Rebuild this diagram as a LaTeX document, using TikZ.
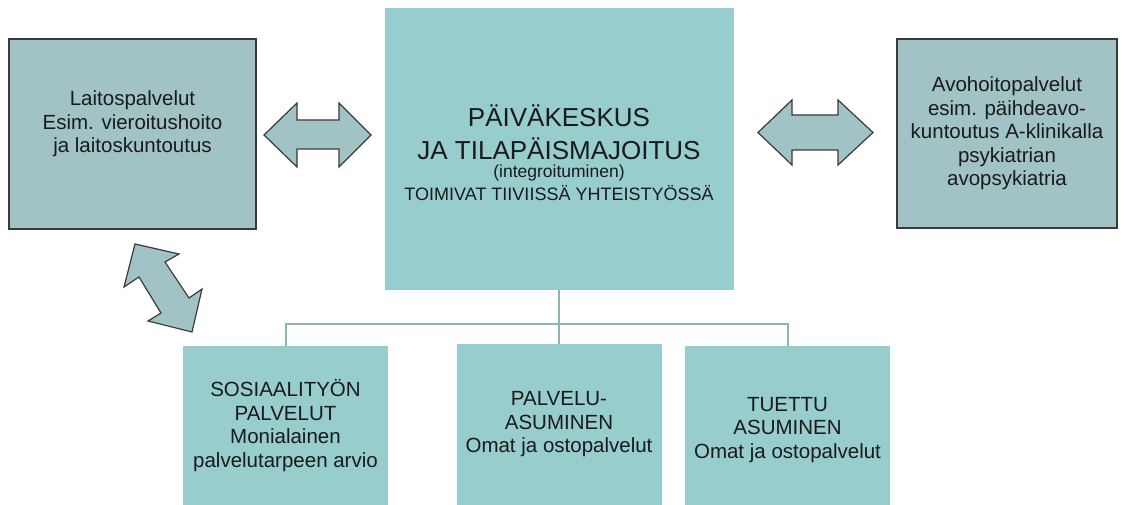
\documentclass[tikz,border=0pt]{standalone}
\usepackage{fontspec}
\setmainfont{Liberation Sans}
\definecolor{teal1}{HTML}{97CDCD}
\definecolor{side}{HTML}{A1C3C6}
\definecolor{edge}{HTML}{3A3A3A}
\definecolor{conn}{HTML}{8DB4B4}
\definecolor{txt}{HTML}{1A1A1A}
\begin{document}
\begin{tikzpicture}[x=1pt,y=-1pt,
  sidebox/.style={draw=edge,line width=1.8pt,fill=side,inner sep=0pt,align=center,text=txt,font=\fontsize{20.5}{23.5}\selectfont},
  mainbox/.style={fill=teal1,inner sep=0pt,align=center,text=txt,font=\fontsize{20.5}{23.5}\selectfont},
  boxtext/.style={inner sep=0pt,align=center,text=txt,font=\fontsize{20.5}{23.5}\selectfont},
  link/.style={draw=conn,line width=2pt},
  blockarrow/.style={draw=edge,line width=1.2pt,fill=side,line join=miter}]
\useasboundingbox (0,0) rectangle (1125,505);
\fill[white] (0,0) rectangle (1125,505);

% main box
\node[mainbox,minimum width=349pt,minimum height=282pt] (center) at (559,149) {};
\node[inner sep=0pt,align=center,text=txt,font=\fontsize{26}{33}\selectfont] (ctext) at (559,152.5)
  {PÄIVÄKESKUS\\JA TILAPÄISMAJOITUS\\[-15pt]{\fontsize{17.5}{21}\selectfont (integroituminen)}\\[-9.5pt]{\fontsize{18}{22}\selectfont TOIMIVAT TIIVIISSÄ YHTEISTYÖSSÄ}};

% side boxes
\node[sidebox,minimum width=247pt,minimum height=190pt] (lbox) at (132.5,134) {};
\node[boxtext] (ltext) at (132.5,124) {Laitospalvelut\\Esim. vieroitushoito\\ja laitoskuntoutus};
\node[sidebox,minimum width=220pt,minimum height=189pt] (rbox) at (1007,133.5)
  {Avohoitopalvelut\\esim. päihdeavo-\\kuntoutus A-klinikalla\\psykiatrian\\avopsykiatria};

% bottom boxes
\node[mainbox,minimum width=205pt,minimum height=159pt] (b1) at (285.5,425.5)
  {SOSIAALITYÖN\\PALVELUT\\Monialainen\\palvelutarpeen arvio};
\node[mainbox,minimum width=205pt,minimum height=161pt] (b2) at (559,424.5)
  {PALVELU-\\ASUMINEN\\Omat ja ostopalvelut};
\node[mainbox,minimum width=205pt,minimum height=159pt] (b3) at (787.5,425.5) {};
\node[boxtext] (b3text) at (787.5,430) {TUETTU\\ASUMINEN\\Omat ja ostopalvelut};

% connectors
\coordinate (bus) at (559,324);
\draw[link] (center.south) -- (b2.north);
\draw[link] (b1.north) |- (bus) -| (b3.north);

% block arrows
\draw[blockarrow] (264,135) -- (297,103) -- (297,120) -- (339,120) -- (339,103) -- (371,135)
  -- (339,167) -- (339,149) -- (297,149) -- (297,167) -- cycle;
\draw[blockarrow] (758,132.5) -- (792,100) -- (792,115) -- (838,115) -- (838,100) -- (873,132.5)
  -- (838,165) -- (838,150) -- (792,150) -- (792,165) -- cycle;
\draw[blockarrow] (135,244) -- (179,254) -- (165,262) -- (189,298) -- (202,289) -- (192,332)
  -- (148,321) -- (161,313) -- (139,277) -- (124,287) -- cycle;
\end{tikzpicture}
\end{document}
